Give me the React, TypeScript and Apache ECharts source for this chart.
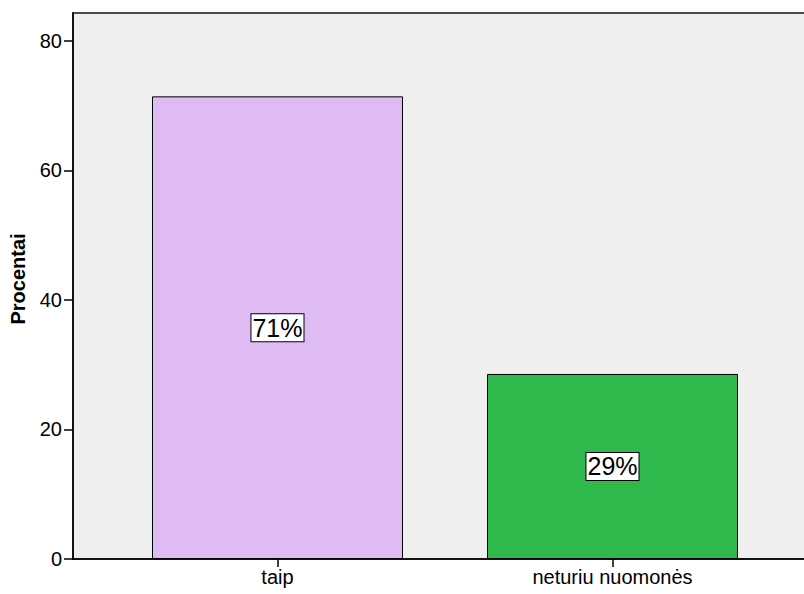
import React, { useEffect, useRef } from "react";
import * as echarts from "echarts";

const categories = ["taip", "neturiu nuomonės"];
const percents = [71.43, 28.57];
const labels = ["71%", "29%"];
const colors = ["#dfbbf3", "#2fb84c"];
const yTicks = [0, 20, 40, 60, 80];

export default function App() {
  const ref = useRef<HTMLDivElement>(null);
  useEffect(() => {
    if (!ref.current) return;
    const chart = echarts.init(ref.current, undefined, { renderer: "svg" });
    const font = "'Liberation Sans', Arial, sans-serif";
    chart.setOption({
      animation: false,
      backgroundColor: "#ffffff",
      grid: {
        left: 73,
        top: 13,
        right: -5,
        bottom: 35,
        outerBoundsMode: "none",
        containLabel: false,
        show: true,
        backgroundColor: "#efefef",
        borderColor: "#4a4a4a",
        borderWidth: 2,
      },
      xAxis: {
        type: "value",
        min: -0.6104,
        max: 1.5866,
        splitLine: { show: false },
        axisLine: { show: true, onZero: false, lineStyle: { color: "#000", width: 1.5 } },
        axisTick: { show: true, customValues: [0, 1], length: 8, lineStyle: { color: "#000", width: 1.5 } },
        axisLabel: {
          customValues: [0, 1],
          formatter: (v: number) => categories[Math.round(v)] ?? "",
          color: "#000",
          fontSize: 20,
          fontFamily: font,
          margin: 8,
        },
      },
      yAxis: {
        type: "value",
        min: 0,
        max: 84.3,
        interval: 20,
        name: "Procentai",
        nameLocation: "middle",
        nameGap: 45,
        nameTextStyle: {
          color: "#000",
          fontSize: 20,
          fontWeight: "bold",
          fontFamily: font,
          padding: [0, 0, 0, 14],
        },
        splitLine: { show: false },
        axisLine: { show: true, onZero: false, lineStyle: { color: "#000", width: 1.5 } },
        axisTick: { show: true, length: 9, lineStyle: { color: "#000", width: 1.5 } },
        axisLabel: {
          color: "#000",
          fontSize: 20,
          fontFamily: font,
          margin: 11,
          showMaxLabel: false,
          formatter: (v: number) => (yTicks.includes(v) ? String(v) : ""),
        },
      },
      series: [
        {
          type: "bar",
          barWidth: 251,
          data: percents.map((p, i) => ({
            value: [i, p],
            itemStyle: { color: colors[i], borderColor: "#000", borderWidth: 1 },
          })),
          label: {
            show: true,
            position: "inside",
            formatter: (p: any) => labels[p.dataIndex],
            color: "#000",
            fontSize: 25,
            fontFamily: font,
            backgroundColor: "#fff",
            borderColor: "#000",
            borderWidth: 1,
            padding: [2, 1, 0, 1],
          },
        },
      ],
    });
    return () => chart.dispose();
  }, []);
  return <div ref={ref} style={{ width: 804, height: 594, position: "absolute", left: 0, top: 0 }} />;
}
